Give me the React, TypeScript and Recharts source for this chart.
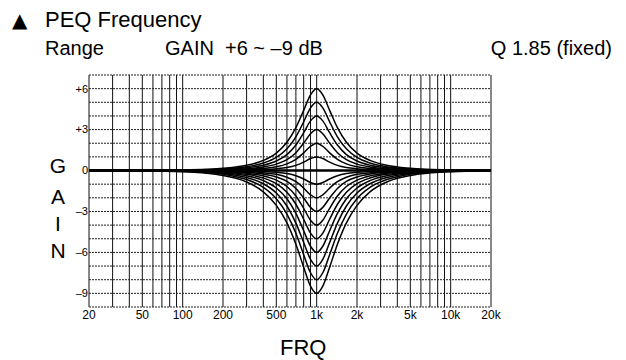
import { LineChart, Line, XAxis, YAxis, CartesianGrid, ReferenceLine } from "recharts";

const FONT = '"Liberation Sans", Arial, Helvetica, sans-serif';

// frequency points (Hz) the curves are sampled at
const FREQS = [20, 50, 100, 150, 200, 250, 300, 400, 500, 600, 700, 800, 900, 1000, 1111, 1250, 1429, 1667, 2000, 2500, 3333, 4000, 5000, 6667, 10000, 20000];

// boost curves, dB
const BOOST_1 = [0, 0, 0, 0.01, 0.01, 0.02, 0.03, 0.07, 0.13, 0.22, 0.38, 0.62, 0.88, 1, 0.88, 0.62, 0.38, 0.22, 0.13, 0.07, 0.03, 0.02, 0.01, 0.01, 0, 0];
const BOOST_2 = [0, 0, 0.01, 0.02, 0.03, 0.05, 0.08, 0.16, 0.28, 0.49, 0.82, 1.29, 1.78, 2, 1.78, 1.29, 0.82, 0.49, 0.28, 0.16, 0.08, 0.05, 0.03, 0.02, 0.01, 0];
const BOOST_3 = [0, 0, 0.01, 0.03, 0.05, 0.09, 0.13, 0.26, 0.47, 0.8, 1.31, 2.01, 2.7, 3, 2.7, 2.01, 1.31, 0.8, 0.47, 0.26, 0.13, 0.09, 0.05, 0.03, 0.01, 0];
const BOOST_4 = [0, 0, 0.02, 0.04, 0.08, 0.13, 0.2, 0.39, 0.7, 1.17, 1.87, 2.77, 3.64, 4, 3.64, 2.77, 1.87, 1.17, 0.7, 0.39, 0.2, 0.13, 0.08, 0.04, 0.02, 0];
const BOOST_5 = [0, 0.01, 0.03, 0.06, 0.12, 0.19, 0.28, 0.55, 0.96, 1.59, 2.47, 3.57, 4.59, 5, 4.59, 3.57, 2.47, 1.59, 0.96, 0.55, 0.28, 0.19, 0.12, 0.06, 0.03, 0.01];
const BOOST_6 = [0, 0.01, 0.04, 0.09, 0.16, 0.26, 0.38, 0.74, 1.28, 2.07, 3.14, 4.41, 5.55, 6, 5.55, 4.41, 3.14, 2.07, 1.28, 0.74, 0.38, 0.26, 0.16, 0.09, 0.04, 0.01];

// cut curves, dB
const CUT_1 = [0, 0, 0, -0.01, -0.01, -0.02, -0.03, -0.07, -0.13, -0.22, -0.38, -0.62, -0.88, -1, -0.88, -0.62, -0.38, -0.22, -0.13, -0.07, -0.03, -0.02, -0.01, -0.01, 0, 0];
const CUT_2 = [0, 0, -0.01, -0.02, -0.03, -0.05, -0.08, -0.16, -0.28, -0.49, -0.82, -1.29, -1.78, -2, -1.78, -1.29, -0.82, -0.49, -0.28, -0.16, -0.08, -0.05, -0.03, -0.02, -0.01, 0];
const CUT_3 = [0, 0, -0.01, -0.03, -0.05, -0.09, -0.13, -0.26, -0.47, -0.8, -1.31, -2.01, -2.7, -3, -2.7, -2.01, -1.31, -0.8, -0.47, -0.26, -0.13, -0.09, -0.05, -0.03, -0.01, 0];
const CUT_4 = [0, 0, -0.02, -0.04, -0.08, -0.13, -0.2, -0.39, -0.7, -1.17, -1.87, -2.77, -3.64, -4, -3.64, -2.77, -1.87, -1.17, -0.7, -0.39, -0.2, -0.13, -0.08, -0.04, -0.02, 0];
const CUT_5 = [0, -0.01, -0.03, -0.06, -0.12, -0.19, -0.28, -0.55, -0.96, -1.59, -2.47, -3.57, -4.59, -5, -4.59, -3.57, -2.47, -1.59, -0.96, -0.55, -0.28, -0.19, -0.12, -0.06, -0.03, -0.01];
const CUT_6 = [0, -0.01, -0.04, -0.09, -0.16, -0.26, -0.38, -0.74, -1.28, -2.07, -3.14, -4.41, -5.55, -6, -5.55, -4.41, -3.14, -2.07, -1.28, -0.74, -0.38, -0.26, -0.16, -0.09, -0.04, -0.01];
const CUT_7 = [0, -0.01, -0.05, -0.12, -0.21, -0.34, -0.51, -0.97, -1.65, -2.6, -3.85, -5.28, -6.51, -7, -6.51, -5.28, -3.85, -2.6, -1.65, -0.97, -0.51, -0.34, -0.21, -0.12, -0.05, -0.01];
const CUT_8 = [0, -0.02, -0.07, -0.15, -0.28, -0.45, -0.66, -1.24, -2.07, -3.19, -4.6, -6.17, -7.49, -8, -7.49, -6.17, -4.6, -3.19, -2.07, -1.24, -0.66, -0.45, -0.28, -0.15, -0.07, -0.02];
const CUT_9 = [0, -0.02, -0.09, -0.2, -0.36, -0.57, -0.84, -1.56, -2.55, -3.84, -5.4, -7.08, -8.47, -9, -8.47, -7.08, -5.4, -3.84, -2.55, -1.56, -0.84, -0.57, -0.36, -0.2, -0.09, -0.02];

const SERIES = [BOOST_6, BOOST_5, BOOST_4, BOOST_3, BOOST_2, BOOST_1, CUT_1, CUT_2, CUT_3, CUT_4, CUT_5, CUT_6, CUT_7, CUT_8, CUT_9];

// grid lines / tick labels
const GRID_FREQS = [20, 30, 40, 50, 60, 70, 80, 90, 100, 200, 300, 400, 500, 600, 700, 800, 900, 1000, 2000, 3000, 4000, 5000, 6000, 7000, 8000, 9000, 10000, 20000];
const FREQ_LABELS: Record<number, string> = { 20: "20", 50: "50", 100: "100", 200: "200", 500: "500", 1000: "1k", 2000: "2k", 5000: "5k", 10000: "10k", 20000: "20k" };
const GAIN_TICKS = [-9, -8, -7, -6, -5, -4, -3, -2, -1, 0, 1, 2, 3, 4, 5, 6, 7];
const GAIN_LABELS: Record<number, string> = { 6: "+6", 3: "+3", 0: "0", [-3]: "\u20133", [-6]: "\u20136", [-9]: "\u20139" };

const data = FREQS.map((f, i) => {
  const row: Record<string, number> = { f };
  SERIES.forEach((s, k) => (row["s" + k] = s[i]));
  return row;
});

const abs = (left: number, top: number, size: number): React.CSSProperties => ({
  position: "absolute",
  left,
  top,
  fontSize: size,
  lineHeight: 1,
  fontFamily: FONT,
  color: "#000",
  whiteSpace: "pre",
});

export default function App() {
  return (
    <div style={{ position: "absolute", left: 0, top: 0, width: 626, height: 360, background: "#fff", overflow: "hidden" }}>
      <span style={{ ...abs(12, 10, 20), fontFamily: '"DejaVu Sans", sans-serif' }}>{"\u25B2"}</span>
      <span style={abs(45, 9, 22)}>PEQ Frequency</span>
      <span style={abs(45, 38, 20)}>Range</span>
      <span style={abs(165, 38, 20)}>{"GAIN  +6 ~ \u20139 dB"}</span>
      <span style={{ ...abs(0, 38, 20), left: "auto", right: 14 }}>Q 1.85 (fixed)</span>

      <span style={{ ...abs(48, 155, 21), width: 20, textAlign: "center" }}>G</span>
      <span style={{ ...abs(48, 186, 21), width: 20, textAlign: "center" }}>A</span>
      <span style={{ ...abs(48, 213, 21), width: 20, textAlign: "center" }}>I</span>
      <span style={{ ...abs(48, 240, 21), width: 20, textAlign: "center" }}>N</span>

      <span style={abs(280, 337, 22)}>FRQ</span>

      <div style={{ position: "absolute", left: 0, top: 0 }}>
        <LineChart width={626} height={360} data={data} margin={{ top: 75, right: 135, bottom: 33, left: 49 }}>
          <CartesianGrid horizontal={false} stroke="#111" strokeWidth={1} />
          <CartesianGrid vertical={false} stroke="#222" strokeDasharray="2 1" />
          <XAxis
            dataKey="f"
            type="number"
            scale="log"
            domain={[20, 20000]}
            ticks={GRID_FREQS}
            interval={0}
            height={20}
            axisLine={false}
            tickLine={false}
            tickSize={0}
            tickMargin={3}
            tickFormatter={(v: number) => FREQ_LABELS[v] ?? ""}
            tick={{ fontSize: 12, fill: "#000", fontFamily: FONT }}
          />
          <YAxis
            type="number"
            domain={[-10, 7]}
            ticks={GAIN_TICKS}
            interval={0}
            width={40}
            axisLine={false}
            tickLine={false}
            tickSize={0}
            tickMargin={1}
            tickFormatter={(v: number) => GAIN_LABELS[v] ?? ""}
            tick={{ fontSize: 11, fill: "#000", fontFamily: FONT }}
          />
          <ReferenceLine y={0} stroke="#000" strokeWidth={2.5} />
          {SERIES.map((_, k) => (
            <Line
              key={k}
              dataKey={"s" + k}
              type="monotone"
              stroke="#000"
              strokeWidth={1.5}
              dot={false}
              isAnimationActive={false}
            />
          ))}
        </LineChart>
      </div>
    </div>
  );
}
